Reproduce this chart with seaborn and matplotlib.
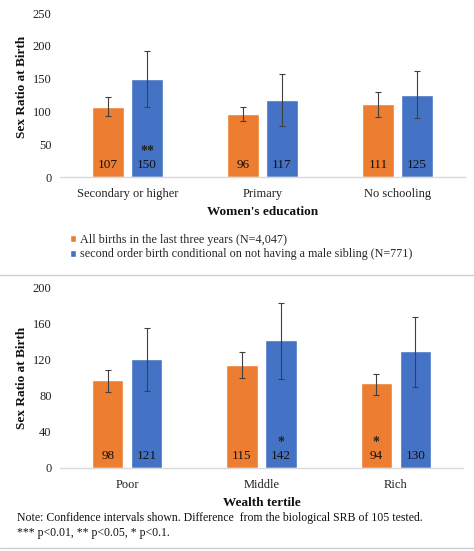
import pandas as pd
import seaborn as sns
import matplotlib.pyplot as plt
from matplotlib.lines import Line2D

# Data
series = [
    "All births in the last three years (N=4,047)",
    "second order birth conditional on not having a male sibling (N=771)",
]

edu_groups = ["Secondary or higher", "Primary", "No schooling"]
edu_all = [107, 96, 111]
edu_all_lo = [93, 85, 92]
edu_all_hi = [122, 106, 129]
edu_all_sig = ["", "", ""]
edu_second = [150, 117, 125]
edu_second_lo = [107, 77, 90]
edu_second_hi = [192, 157, 161]
edu_second_sig = ["**", "", ""]

wealth_groups = ["Poor", "Middle", "Rich"]
w_all = [98, 115, 94]
w_all_lo = [85, 100, 81]
w_all_hi = [109, 129, 105]
w_all_sig = ["", "", "*"]
w_second = [121, 142, 130]
w_second_lo = [86, 99, 90]
w_second_hi = [156, 183, 168]
w_second_sig = ["", "*", ""]

ORANGE = "#ED7D31"
BLUE = "#4472C4"
GRID = "#D9D9D9"

sns.set_theme(style="white")
plt.rcParams["font.family"] = ["Liberation Serif", "DejaVu Serif"]


def make_frame(groups, a, b):
    rows = []
    for g, v in zip(groups, a):
        rows.append({"group": g, "series": series[0], "value": v})
    for g, v in zip(groups, b):
        rows.append({"group": g, "series": series[1], "value": v})
    return pd.DataFrame(rows)


def panel(ax, groups, a, b, lows, highs, sigs, ymax, ystep, xlabel, legend):
    df = make_frame(groups, a, b)
    sns.barplot(data=df, x="group", y="value", hue="series",
                palette=[ORANGE, BLUE], width=0.58, gap=0.2,
                errorbar=None, legend=legend, ax=ax, saturation=1)
    for cont, vals, lo, hi, sg in zip(ax.containers, [a, b], lows, highs, sigs):
        xs = [p.get_x() + p.get_width() / 2 for p in cont.patches]
        yerr = [[v - l for v, l in zip(vals, lo)], [h - v for v, h in zip(vals, hi)]]
        ax.errorbar(xs, vals, yerr=yerr, fmt="none", ecolor="#404040",
                    elinewidth=0.8, capsize=2.2, capthick=0.8)
        for x, v, s in zip(xs, vals, sg):
            ax.annotate(str(v), (x, 0), xytext=(0, 8.5), textcoords="offset points",
                        ha="center", va="center", fontsize=9.5, color="#111111")
            if s:
                ax.annotate(s, (x, 0), xytext=(0, 18.5), textcoords="offset points",
                            ha="center", va="center", fontsize=10,
                            fontweight="bold", color="#222222")
    ax.set_ylim(0, ymax)
    ax.set_yticks(range(0, ymax + 1, ystep))
    ax.set_xlim(-0.5, len(groups) - 0.5)
    for side in ["top", "right", "left"]:
        ax.spines[side].set_visible(False)
    ax.spines["bottom"].set_color(GRID)
    ax.spines["bottom"].set_linewidth(1)
    ax.tick_params(axis="both", length=0, labelsize=9, colors="#222222")
    ax.tick_params(axis="y", pad=6)
    ax.tick_params(axis="x", pad=8)
    ax.set_xlabel(xlabel, fontsize=9.5, fontweight="bold", labelpad=4.5, color="#111111")
    ax.set_ylabel("Sex Ratio at Birth", fontsize=9.5, fontweight="bold", color="#111111")


fig = plt.figure(figsize=(4.74, 5.51), dpi=100)
ax1 = fig.add_axes([60 / 474, 1 - 177 / 551, 405 / 474, 164 / 551])
ax2 = fig.add_axes([60 / 474, 1 - 468 / 551, 403 / 474, 180 / 551])

panel(ax1, edu_groups, edu_all, edu_second,
      [edu_all_lo, edu_second_lo], [edu_all_hi, edu_second_hi],
      [edu_all_sig, edu_second_sig], 250, 50, "Women's education", True)
panel(ax2, wealth_groups, w_all, w_second,
      [w_all_lo, w_second_lo], [w_all_hi, w_second_hi],
      [w_all_sig, w_second_sig], 200, 40, "Wealth tertile", False)

ax1.yaxis.set_label_coords(-0.078, 0.55)
ax2.yaxis.set_label_coords(-0.079, 0.5)

sns.move_legend(ax1, "upper left", bbox_to_anchor=(70 / 474, 1 - 234 / 551),
                bbox_transform=fig.transFigure, frameon=False, title=None,
                fontsize=8.7, handlelength=0.5, handleheight=0.5,
                handletextpad=0.35, labelspacing=0.2, borderpad=0,
                borderaxespad=0)

for yy in [275, 548]:
    fig.add_artist(Line2D([0, 1], [1 - yy / 551] * 2, transform=fig.transFigure,
                          color="#CFCFCF", lw=1))

fig.text(17 / 474, 1 - 518 / 551,
         "Note: Confidence intervals shown. Difference  from the biological SRB of 105 tested.",
         fontsize=8.5, va="center", color="#111111")
fig.text(17 / 474, 1 - 533 / 551, "*** p<0.01, ** p<0.05, * p<0.1.",
         fontsize=8.5, va="center", color="#111111")

fig.savefig("out.png", dpi=100)
